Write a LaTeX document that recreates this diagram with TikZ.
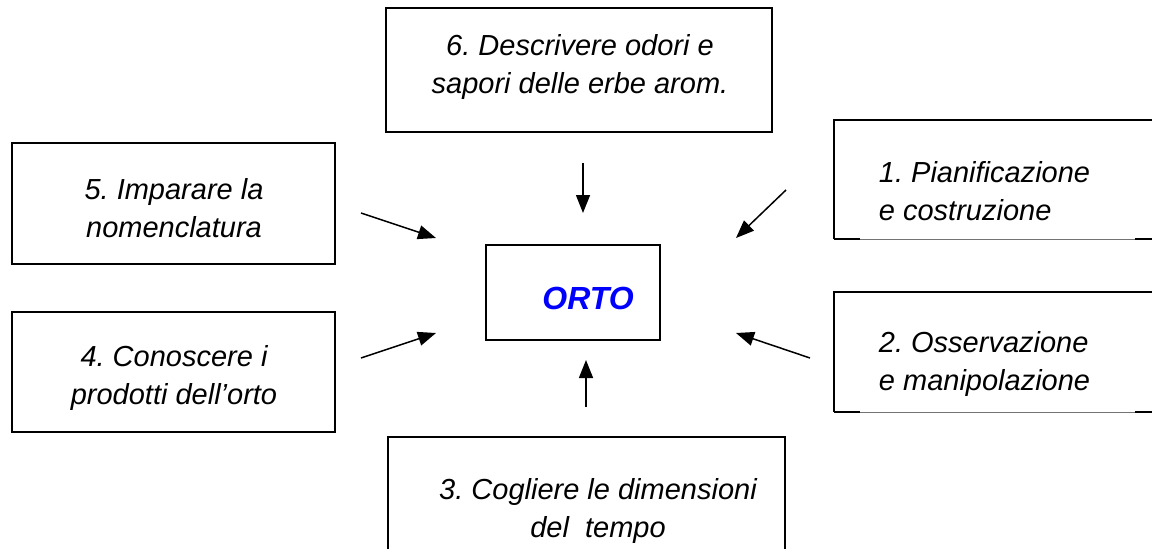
\documentclass[tikz,border=0pt]{standalone}
\usepackage{fontspec}
\setmainfont{Liberation Sans}
\frenchspacing
\usetikzlibrary{arrows.meta}
\tikzset{
  box/.style={draw, line width=1.5pt, inner sep=0pt},
  side/.style={line width=1.5pt},
  faint/.style={line width=0.6pt, color=black!55},
  lbl/.style={font=\fontsize{29}{38}\selectfont\itshape, inner sep=0.75pt},
  arr/.style={line width=1.5pt, -{Triangle[length=18pt,width=14pt]}},
}
\begin{document}
\begin{tikzpicture}[x=1pt,y=1pt,yscale=-1,xscale=1]
\useasboundingbox (0,0) rectangle (1152,549);
\clip (0,0) rectangle (1152,549);

%Shape: Rectangle [centre]
\node [box, minimum width=174, minimum height=95] (orto) at (573,292.5) {};
%Shape: Rectangle [6]
\node [box, minimum width=386, minimum height=124] (b6) at (579,70) {};
%Shape: Rectangle [5]
\node [box, minimum width=323, minimum height=121] (b5) at (173.5,203.5) {};
%Shape: Rectangle [4]
\node [box, minimum width=323, minimum height=120] (b4) at (173.5,372) {};
%Shape: Rectangle [3]
\node [box, minimum width=397, minimum height=133] (b3) at (586.5,503.5) {};
%Shape: Rectangle [1]
\node [minimum width=346, minimum height=119, inner sep=0pt] (b1) at (1007,179.5) {};
\draw [side] (b1.south west) -- (b1.north west) -- (b1.north east) ;
\draw [side] (b1.south west) -- ++(26,0) ;
\draw [faint] (b1.south west) ++(26,0) -- ++(275,0) ;
\draw [side] (b1.south west) ++(301,0) -- (b1.south east) ;
%Shape: Rectangle [2]
\node [minimum width=346, minimum height=120, inner sep=0pt] (b2) at (1007,352) {};
\draw [side] (b2.south west) -- (b2.north west) -- (b2.north east) ;
\draw [side] (b2.south west) -- ++(26,0) ;
\draw [faint] (b2.south west) ++(26,0) -- ++(275,0) ;
\draw [side] (b2.south west) ++(301,0) -- (b2.south east) ;

% Text Node
\draw (588,298) node [lbl, font=\fontsize{32}{38}\selectfont\bfseries\itshape, text={rgb,255:red,0;green,0;blue,255}] (t0) {ORTO};
% Text Node
\draw (580,67) node [lbl, align=center] (t6) {6. Descrivere odori e\\sapori delle erbe arom.};
% Text Node
\draw (174,208) node [lbl, align=center] (t5) {5. Imparare la\\nomenclatura};
% Text Node
\draw (174,378) node [lbl, align=center] (t4) {4. Conoscere i\\prodotti dell'orto};
% Text Node
\draw (598,511) node [lbl, align=center] (t3) {3. Cogliere le dimensioni\\del\ \ tempo};
% Text Node
\draw (878,191) node [lbl, anchor=west, align=left] (t1) {1. Pianificazione\\e costruzione};
% Text Node
\draw (878,364) node [lbl, anchor=west, align=left] (t2) {2. Osservazione\\e manipolazione};

%Straight Lines
\coordinate (s6) at (583,163) ; \coordinate (e6) at (583,213) ;
\coordinate (s5) at (361,213) ; \coordinate (e5) at (436,238) ;
\coordinate (s4) at (361,358) ; \coordinate (e4) at (436,333) ;
\coordinate (s3) at (586,407) ; \coordinate (e3) at (586,360) ;
\coordinate (s1) at (786,190) ; \coordinate (e1) at (736,238) ;
\coordinate (s2) at (810,358) ; \coordinate (e2) at (736,333) ;
\draw [arr] (s6) -- (e6) ;
\draw [arr] (s5) -- (e5) ;
\draw [arr] (s4) -- (e4) ;
\draw [arr] (s3) -- (e3) ;
\draw [arr] (s1) -- (e1) ;
\draw [arr] (s2) -- (e2) ;

\end{tikzpicture}
\end{document}
